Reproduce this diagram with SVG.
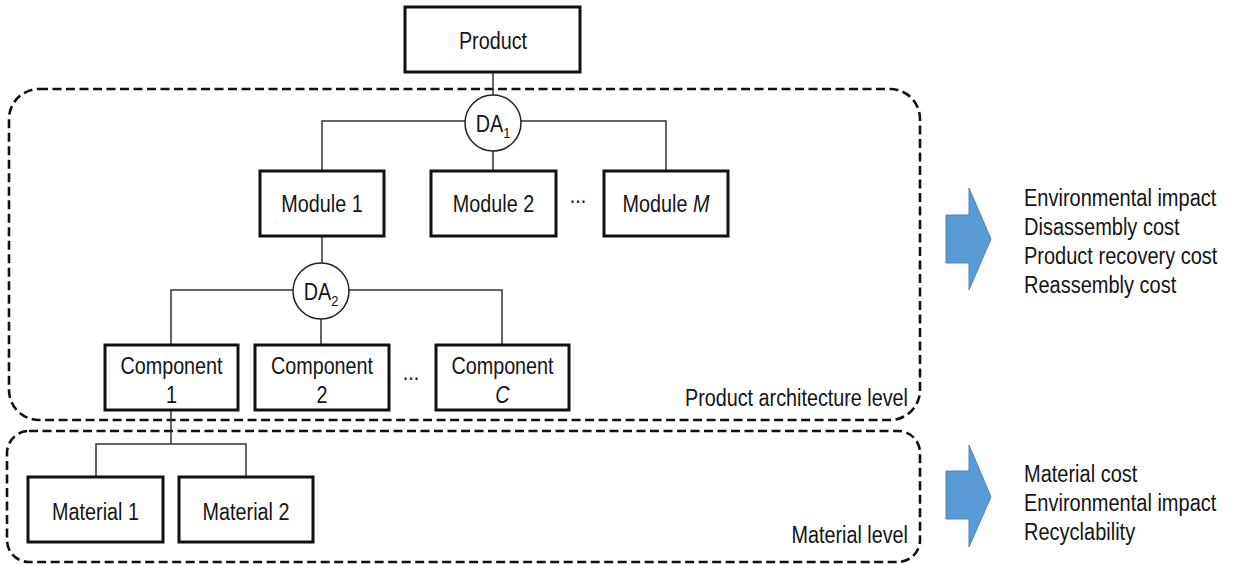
<svg xmlns="http://www.w3.org/2000/svg" width="1233" height="565" viewBox="0 0 1233 565">
  <style>
    .box { fill: #fff; stroke: #111; stroke-width: 3; }
    .da { fill: #fff; stroke: #222; stroke-width: 1.5; }
    .wire { fill: none; stroke: #333; stroke-width: 1.5; }
    .level { fill: none; stroke: #111; stroke-width: 2.6; stroke-dasharray: 9 4.5; }
    .arrow { fill: #5b9bd5; stroke: #4a86c0; stroke-width: 1; }
    .t { font-family: "Liberation Sans", Arial, sans-serif; font-size: 23px; fill: #151515; }
    .c { text-anchor: middle; }
    .e { text-anchor: end; }
    .sub { font-size: 15px; }
  </style>

  <!-- level frames -->
  <g id="level-architecture">
    <rect class="level" x="9" y="89" width="911" height="331" rx="30" ry="30"/>
    <text class="t e" transform="translate(908,406) scale(0.86,1)">Product architecture level</text>
  </g>
  <g id="level-material">
    <rect class="level" x="7" y="431" width="913" height="131" rx="22" ry="22"/>
    <text class="t e" transform="translate(908,543) scale(0.86,1)">Material level</text>
  </g>

  <!-- tree connectors -->
  <g id="connectors">
    <path class="wire" d="M493 72 V95"/>
    <path class="wire" d="M465 121 H322 V171"/>
    <path class="wire" d="M521 121 H666 V171"/>
    <path class="wire" d="M493 151 V171"/>
    <path class="wire" d="M322 236 V263"/>
    <path class="wire" d="M293 290 H171 V345"/>
    <path class="wire" d="M349 290 H502 V345"/>
    <path class="wire" d="M321 319 V345"/>
    <path class="wire" d="M171 410 V444"/>
    <path class="wire" d="M96 477 V444 H246 V477"/>
  </g>

  <!-- nodes -->
  <g id="product">
    <rect class="box" x="405" y="7" width="175" height="65"/>
    <text class="t c" transform="translate(493,49) scale(0.86,1)">Product</text>
  </g>
  <g id="da1">
    <circle class="da" cx="493" cy="123" r="28"/>
    <text class="t c" transform="translate(493,132) scale(0.86,1)">DA<tspan class="sub" dy="6">1</tspan></text>
  </g>
  <g id="module-1">
    <rect class="box" x="260" y="171" width="124" height="65"/>
    <text class="t c" transform="translate(322,212) scale(0.86,1)">Module 1</text>
  </g>
  <g id="module-2">
    <rect class="box" x="431" y="171" width="125" height="65"/>
    <text class="t c" transform="translate(493.5,212) scale(0.86,1)">Module 2</text>
  </g>
  <g id="module-dots">
    <text class="t c" transform="translate(578,203) scale(0.86,1)">...</text>
  </g>
  <g id="module-m">
    <rect class="box" x="604" y="171" width="124" height="65"/>
    <text class="t c" transform="translate(666,212) scale(0.86,1)">Module <tspan font-style="italic">M</tspan></text>
  </g>
  <g id="da2">
    <circle class="da" cx="321" cy="291" r="28"/>
    <text class="t c" transform="translate(321,300) scale(0.86,1)">DA<tspan class="sub" dy="6">2</tspan></text>
  </g>
  <g id="component-1">
    <rect class="box" x="105" y="345" width="133" height="65"/>
    <text class="t c" transform="translate(171.5,374) scale(0.86,1)">Component</text>
    <text class="t c" transform="translate(171.5,403) scale(0.86,1)">1</text>
  </g>
  <g id="component-2">
    <rect class="box" x="255" y="345" width="134" height="65"/>
    <text class="t c" transform="translate(322,374) scale(0.86,1)">Component</text>
    <text class="t c" transform="translate(322,403) scale(0.86,1)">2</text>
  </g>
  <g id="component-dots">
    <text class="t c" transform="translate(411,380) scale(0.86,1)">...</text>
  </g>
  <g id="component-c">
    <rect class="box" x="436" y="345" width="133" height="65"/>
    <text class="t c" transform="translate(502.5,374) scale(0.86,1)">Component</text>
    <text class="t c" transform="translate(502.5,403) scale(0.86,1)" font-style="italic">C</text>
  </g>
  <g id="material-1">
    <rect class="box" x="28" y="477" width="135" height="65"/>
    <text class="t c" transform="translate(95.5,520) scale(0.86,1)">Material 1</text>
  </g>
  <g id="material-2">
    <rect class="box" x="179" y="477" width="134" height="65"/>
    <text class="t c" transform="translate(246,520) scale(0.86,1)">Material 2</text>
  </g>

  <!-- outcome arrows and criteria -->
  <g id="outcome-architecture">
    <path class="arrow" d="M946 215 H969 V188 L991 239 L969 290 V263 H946 Z"/>
    <text class="t" transform="translate(1024,206) scale(0.87,1)">Environmental impact</text>
    <text class="t" transform="translate(1024,235) scale(0.87,1)">Disassembly cost</text>
    <text class="t" transform="translate(1024,264) scale(0.87,1)">Product recovery cost</text>
    <text class="t" transform="translate(1024,293) scale(0.87,1)">Reassembly cost</text>
  </g>
  <g id="outcome-material">
    <path class="arrow" d="M946 471 H969 V445 L991 497 L969 547 V519 H946 Z"/>
    <text class="t" transform="translate(1024,482) scale(0.87,1)">Material cost</text>
    <text class="t" transform="translate(1024,511) scale(0.87,1)">Environmental impact</text>
    <text class="t" transform="translate(1024,540) scale(0.87,1)">Recyclability</text>
  </g>
</svg>
